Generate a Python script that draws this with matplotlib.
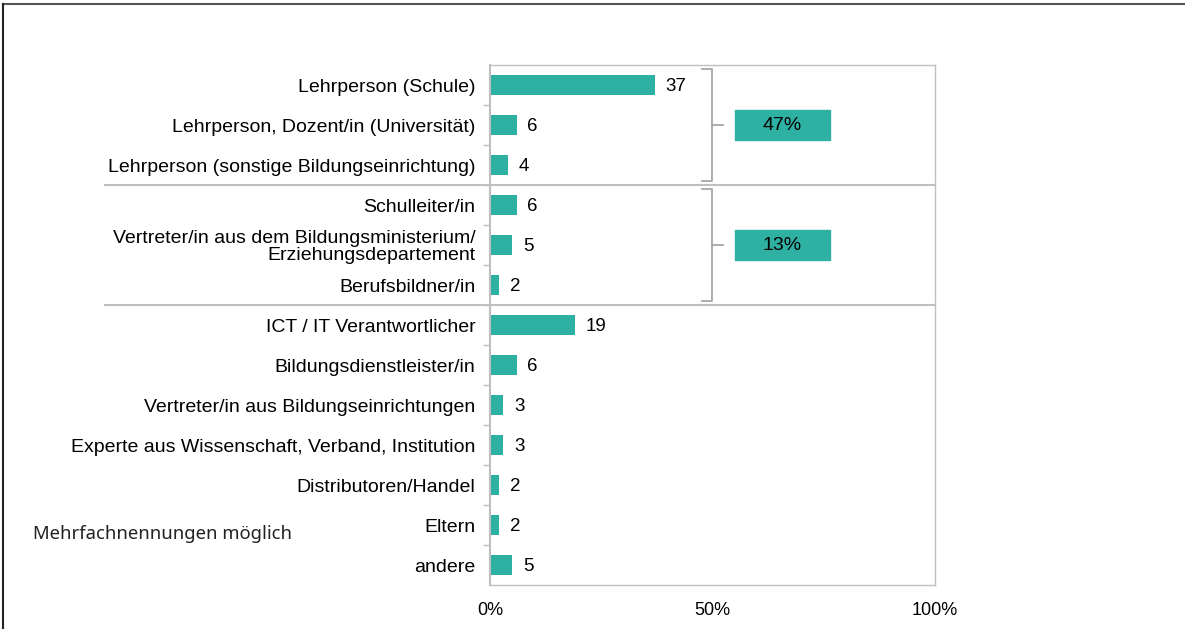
import matplotlib.pyplot as plt
from matplotlib.lines import Line2D

# data
categories = [
    "Lehrperson (Schule)",
    "Lehrperson, Dozent/in (Universität)",
    "Lehrperson (sonstige Bildungseinrichtung)",
    "Schulleiter/in",
    "Vertreter/in aus dem Bildungsministerium/\nErziehungsdepartement",
    "Berufsbildner/in",
    "ICT / IT Verantwortlicher",
    "Bildungsdienstleister/in",
    "Vertreter/in aus Bildungseinrichtungen",
    "Experte aus Wissenschaft, Verband, Institution",
    "Distributoren/Handel",
    "Eltern",
    "andere",
]
values = [37, 6, 4, 6, 5, 2, 19, 6, 3, 3, 2, 2, 5]
group_rows = [(0, 2), (3, 5)]
group_totals = ["47%", "13%"]
x_ticks = [0, 50, 100]
x_ticklabels = ["0%", "50%", "100%"]
note = "Mehrfachnennungen möglich"

teal = "#2EB0A3"
grid_gray = "#BFBFBF"
bracket_gray = "#A6A6A6"

plt.rcParams['font.family'] = ['Liberation Sans', 'DejaVu Sans']

fig = plt.figure(figsize=(11.85, 6.29), dpi=100)
ax = fig.add_axes([490 / 1185, 1 - 585 / 629, 445 / 1185, 520 / 629])

n = len(categories)
ypos = list(range(n))
ax.barh(ypos, values, height=0.48, color=teal)
for y, v in zip(ypos, values):
    ax.text(v + 2.4, y + 0.03, str(v), va="center", ha="left", fontsize=13.5)

ax.set_xlim(0, 100)
ax.set_ylim(n - 0.5, -0.5)
ax.set_xticks(x_ticks)
ax.set_xticklabels(x_ticklabels, fontsize=13)
ax.tick_params(axis="x", length=0, pad=12)
ax.set_yticks(ypos)
ax.set_yticklabels(categories, fontsize=14, linespacing=1.0)
ax.tick_params(axis="y", length=0, pad=10.5)
# small ticks between categories
ax.set_yticks([i + 0.5 for i in range(n - 1)], minor=True)
ax.tick_params(axis="y", which="minor", length=5, color=grid_gray, width=1)
for s in ax.spines.values():
    s.set_color(grid_gray)
    s.set_linewidth(1)
ax.spines["left"].set_linewidth(1.5)

# separators between groups, extending into the label area
for sep in [2.5, 5.5]:
    ax.plot([-86.5, 100], [sep, sep], color=grid_gray, lw=1.5, clip_on=False)

# brackets and group totals
for (a, b), lab in zip(group_rows, group_totals):
    top = a - 0.4
    bot = b + 0.4
    mid = (a + b) / 2
    bx = 49.9
    ax.plot([bx - 2.3, bx, bx, bx - 2.3], [top, top, bot, bot],
            color=bracket_gray, lw=1.3, solid_joinstyle="round")
    ax.plot([bx, bx + 2.5], [mid, mid], color=bracket_gray, lw=1.3)
    ax.add_patch(plt.Rectangle((55, mid - 0.37), 21.4, 0.74, color=teal))
    ax.text(65.7, mid, lab, ha="center", va="center", fontsize=14)

fig.text(33 / 1185, 1 - 534 / 629, note, fontsize=13.3, family=['Noto Sans', 'DejaVu Sans'],
         va="center", ha="left", color="#222222")

# outer frame (top and left only)
fig.add_artist(Line2D([3 / 1185, 1], [1 - 4 / 629, 1 - 4 / 629], color="#555555", lw=1.5))
fig.add_artist(Line2D([3 / 1185, 3 / 1185], [0, 1 - 4 / 629], color="#222222", lw=1.5))

fig.savefig("out.png", dpi=100)
